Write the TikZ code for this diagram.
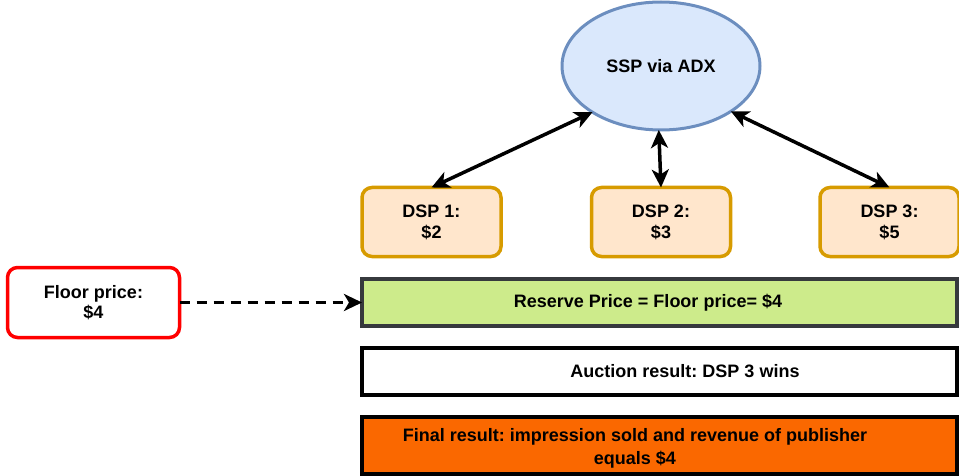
\documentclass[tikz,border=0pt]{standalone}
\usepackage{fontspec}
\setmainfont{Liberation Sans}
\usetikzlibrary{arrows.meta,shapes.geometric}
\definecolor{sspfill}{HTML}{DAE8FC}
\definecolor{sspline}{HTML}{6C8EBF}
\definecolor{dspfill}{HTML}{FFE6CC}
\definecolor{dspline}{HTML}{D79B00}
\definecolor{reservefill}{HTML}{CDEB8B}
\definecolor{reserveline}{HTML}{36393D}
\definecolor{finalfill}{HTML}{FA6800}
\definecolor{floorline}{HTML}{FF0000}
\frenchspacing

\begin{document}
\begin{tikzpicture}[x=1pt,y=-1pt,
  every node/.style={font=\bfseries\fontsize{18}{21}\selectfont, align=center,
    inner sep=0pt, outer sep=0pt},
  dspbox/.style={draw=dspline, fill=dspfill, line width=3.5pt, rounded corners=10pt,
    minimum width=139pt, minimum height=69pt},
  band/.style={line width=3.5pt, minimum width=595pt},
  link/.style={line width=3.5pt, {Stealth[length=18pt,width=17pt,inset=5pt]}-{Stealth[length=18pt,width=17pt,inset=5pt]}},
  feed/.style={line width=3.5pt, dash pattern=on 10pt off 7pt, -{Stealth[length=18pt,width=17pt,inset=5pt]}},
]
\clip (0,0) rectangle (959,476);

% auction participants
\node[ellipse, draw=sspline, fill=sspfill, line width=3pt,
  minimum width=198pt, minimum height=128pt] (ssp) at (661,66) {SSP via ADX};
\node[dspbox] (dsp1) at (431.5,222) {DSP 1:\\\$2};
\node[dspbox] (dsp2) at (661,222) {DSP 2:\\\$3};
\node[dspbox] (dsp3) at (889.5,222) {DSP 3:\\\$5};

% floor price input
\node[draw=floorline, fill=white, line width=3.5pt, rounded corners=10pt,
  minimum width=172pt, minimum height=70pt, font=\bfseries\fontsize{18}{20}\selectfont]
  (floor) at (93.5,302.5) {Floor price:\\\$4};

% result bands
\node[band, draw=reserveline, fill=reservefill, minimum height=47pt] (reserve) at (659.5,302.5) {};
\node[band, draw=black, fill=white, minimum height=47pt] (auction) at (659.5,371.5) {};
\node[band, draw=black, fill=finalfill, minimum height=57pt] (final) at (659.5,445.5) {};
\node (reservetext) at (648,302.5) {Reserve Price = Floor price= \$4};
\node (auctiontext) at (685,371.5) {Auction result: DSP 3 wins};
\node[font=\bfseries\fontsize{18}{23}\selectfont] (finaltext) at (635,448)
  {Final result: impression sold and revenue of publisher\\equals \$4};

% bids exchanged with the SSP
\draw[link] (ssp.214) -- (dsp1.north);
\draw[link] (ssp.268) -- (dsp2.north);
\draw[link] (ssp.327) -- (dsp3.north);

% floor price sets the reserve
\draw[feed] (floor.east) -- (reserve.west);
\end{tikzpicture}
\end{document}
